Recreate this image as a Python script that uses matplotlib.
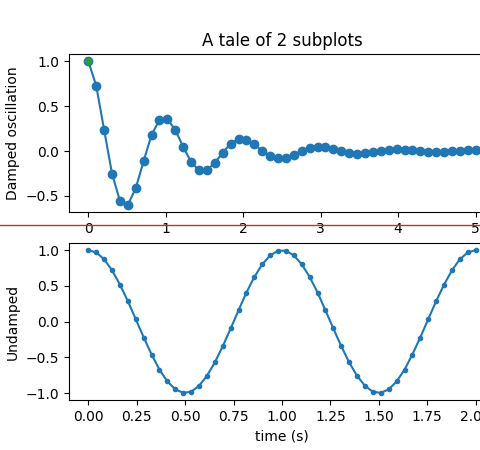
import matplotlib
matplotlib.use("Agg")
import matplotlib.pyplot as plt
from matplotlib.lines import Line2D

# Damped oscillation (top panel)
x1 = [0.0, 0.102, 0.204, 0.306, 0.408, 0.510, 0.612, 0.714, 0.816, 0.918,
      1.020, 1.122, 1.224, 1.327, 1.429, 1.531, 1.633, 1.735, 1.837, 1.939,
      2.041, 2.143, 2.245, 2.347, 2.449, 2.551, 2.653, 2.755, 2.857, 2.959,
      3.061, 3.163, 3.265, 3.367, 3.469, 3.571, 3.673, 3.776, 3.878, 3.980,
      4.082, 4.184, 4.286, 4.388, 4.490, 4.592, 4.694, 4.796, 4.898, 5.0]
y1 = [1.000, 0.724, 0.232, -0.254, -0.557, -0.599, -0.413, -0.109, 0.179, 0.348,
      0.357, 0.234, 0.047, -0.123, -0.216, -0.212, -0.131, -0.017, 0.083, 0.133,
      0.126, 0.073, 0.003, -0.055, -0.082, -0.074, -0.040, 0.002, 0.036, 0.050,
      0.043, 0.022, -0.004, -0.023, -0.031, -0.025, -0.012, 0.004, 0.015, 0.019,
      0.015, 0.006, -0.003, -0.010, -0.011, -0.009, -0.003, 0.002, 0.006, 0.007]

# Undamped (bottom panel)
x2 = [0.0, 0.041, 0.082, 0.122, 0.163, 0.204, 0.245, 0.286, 0.327, 0.367,
      0.408, 0.449, 0.490, 0.531, 0.571, 0.612, 0.653, 0.694, 0.735, 0.776,
      0.816, 0.857, 0.898, 0.939, 0.980, 1.020, 1.061, 1.102, 1.143, 1.184,
      1.224, 1.265, 1.306, 1.347, 1.388, 1.429, 1.469, 1.510, 1.551, 1.592,
      1.633, 1.673, 1.714, 1.755, 1.796, 1.837, 1.878, 1.918, 1.959, 2.0]
y2 = [1.000, 0.967, 0.871, 0.718, 0.518, 0.285, 0.032, -0.223, -0.463, -0.672,
      -0.838, -0.949, -0.998, -0.982, -0.901, -0.761, -0.572, -0.345, -0.096, 0.160,
      0.405, 0.624, 0.801, 0.927, 0.992, 0.992, 0.927, 0.801, 0.624, 0.405,
      0.160, -0.096, -0.345, -0.572, -0.761, -0.901, -0.982, -0.998, -0.949, -0.838,
      -0.672, -0.463, -0.223, 0.032, 0.285, 0.518, 0.718, 0.871, 0.967, 1.000]

title = "A tale of 2 subplots"
ylabel1 = "Damped oscillation"
ylabel2 = "Undamped"
xlabel2 = "time (s)"

fig = plt.figure(figsize=(4.8, 4.5), dpi=100)
W, H = 480, 450
left = 69 / W
width = (495 - 69) / W
ax1 = fig.add_axes([left, 1 - 212 / H, width, (212 - 54) / H])
ax2 = fig.add_axes([left, 1 - 400 / H, width, (400 - 243) / H])

ax1.plot(x1, y1, 'o-')
ax1.plot(x1[:1], y1[:1], 'o', color='tab:green', markersize=4, zorder=3)
ax1.set_title(title)
ax1.set_ylabel(ylabel1)

ax2.plot(x2, y2, '.-')
ax2.set_xlabel(xlabel2)
ax2.set_ylabel(ylabel2)

fig.add_artist(Line2D([0, 1], [1 - 225 / H, 1 - 225 / H], transform=fig.transFigure,
                      color='#b0392b', lw=1))

fig.savefig("out.png", dpi=100)
